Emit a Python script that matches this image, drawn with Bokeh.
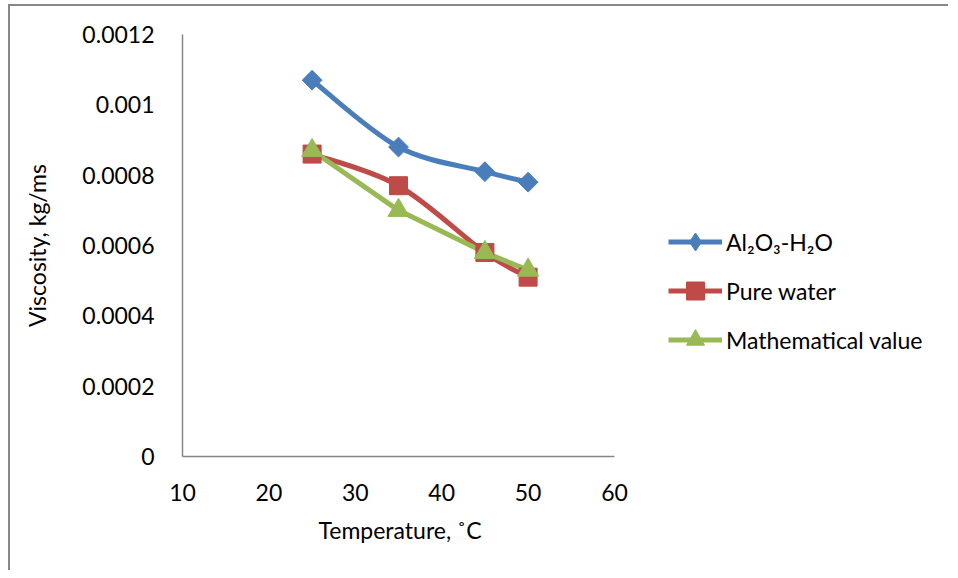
import numpy as np
from bokeh.plotting import figure
from bokeh.models import FixedTicker, Legend, LegendItem, ColumnDataSource, Title
from bokeh.embed import file_html
from bokeh.resources import INLINE

temps = [25, 35, 45, 50]
al2o3_h2o = [0.00107, 0.00088, 0.00081, 0.00078]
pure_water = [0.00086, 0.00077, 0.00058, 0.00051]
math_value = [0.00087, 0.00070, 0.00058, 0.00053]

x_ticks = [10, 20, 30, 40, 50, 60]
y_ticks = [0, 0.0002, 0.0004, 0.0006, 0.0008, 0.001, 0.0012]
y_tick_labels = ["0", "0.0002", "0.0004", "0.0006", "0.0008", "0.001", "0.0012"]

BLUE = "#4A7EBB"
RED = "#BE4B48"
GREEN = "#98B954"
AXIS = "#868686"
FONT = "Lato"

W, H = 940, 566
FL, FT, FR, FB = 172, 28, 940, 450
AXIS_PX = 432.0
X_MIN, X_MAX = 10, 60
# the frame extends right of the x axis to hold the legend; keep px/unit of 10..60 over AXIS_PX
x_end = X_MIN + (X_MAX - X_MIN) * (FR - FL) / AXIS_PX

p = figure(width=W, height=H, output_backend="svg", toolbar_location=None,
           x_range=(X_MIN, x_end), y_range=(0, 0.0012),
           min_border_left=FL, min_border_right=W - FR,
           min_border_top=FT, min_border_bottom=H - FB)
p.margin = (4, 0, 0, 8)
p.styles = {"border-left": "2px solid #878787", "border-top": "2px solid #878787"}
p.outline_line_color = None
p.grid.visible = False
p.background_fill_color = "white"
p.border_fill_color = "white"

for ax in (p.xaxis[0], p.yaxis[0]):
    ax.axis_line_color = AXIS
    ax.axis_line_width = 1.5
    ax.major_tick_line_color = None
    ax.minor_tick_line_color = None
    ax.major_label_text_font = FONT
    ax.major_label_text_font_size = "23px"
    ax.major_label_text_color = "black"
    ax.axis_label_text_font = FONT
    ax.axis_label_text_font_size = "23px"
    ax.axis_label_text_font_style = "normal"
    ax.axis_label_text_color = "black"

p.xaxis.ticker = FixedTicker(ticks=x_ticks)
p.xaxis.bounds = (X_MIN, X_MAX)
p.xaxis.major_label_standoff = 21

p.yaxis.ticker = FixedTicker(ticks=y_ticks)
p.yaxis.major_label_overrides = {t: s for t, s in zip(y_ticks, y_tick_labels)}
p.yaxis.major_label_standoff = 22
p.yaxis.axis_label = "Viscosity, kg/ms"
p.yaxis.axis_label_standoff = 28

# x-axis title centred under the axis (not under the wider frame)
xtitle = Title(text="Temperature, ˚C", align="left", offset=136,
               text_font=FONT, text_font_size="23px", text_font_style="normal",
               text_color="black", standoff=21)
p.add_layout(xtitle, "below")


def smooth_segments(xs, ys):
    xs = np.asarray(xs, float)
    ys = np.asarray(ys, float)
    n = len(xs)
    d = dict(x0=[], y0=[], x1=[], y1=[], cx0=[], cy0=[], cx1=[], cy1=[])
    for i in range(n - 1):
        a = max(i - 1, 0)
        b = min(i + 2, n - 1)
        d["x0"].append(xs[i]); d["y0"].append(ys[i])
        d["x1"].append(xs[i + 1]); d["y1"].append(ys[i + 1])
        d["cx0"].append(xs[i] + (xs[i + 1] - xs[a]) / 6)
        d["cy0"].append(ys[i] + (ys[i + 1] - ys[a]) / 6)
        d["cx1"].append(xs[i + 1] - (xs[b] - xs[i]) / 6)
        d["cy1"].append(ys[i + 1] - (ys[b] - ys[i]) / 6)
    return ColumnDataSource(d)


lw = 5
b_line = p.bezier(x0="x0", y0="y0", x1="x1", y1="y1", cx0="cx0", cy0="cy0",
                  cx1="cx1", cy1="cy1", source=smooth_segments(temps, al2o3_h2o),
                  line_color=BLUE, line_width=lw)
r_line = p.bezier(x0="x0", y0="y0", x1="x1", y1="y1", cx0="cx0", cy0="cy0",
                  cx1="cx1", cy1="cy1", source=smooth_segments(temps, pure_water),
                  line_color=RED, line_width=lw)
g_line = p.line(temps, math_value, line_color=GREEN, line_width=lw)

b_mk = p.scatter(temps, al2o3_h2o, marker="square", angle=np.pi / 4, size=14,
                 fill_color=BLUE, line_color=BLUE)
r_mk = p.scatter(temps, pure_water, marker="square", size=18,
                 fill_color=RED, line_color=RED)
g_mk = p.scatter(temps, math_value, marker="triangle", size=21,
                 fill_color=GREEN, line_color=GREEN)

# legend-only diamond swatch (legend swatches ignore marker angle); NaN = nothing on the chart
b_key = p.scatter(x=[float("nan")], y=[float("nan")], marker="diamond", size=14,
                  fill_color=BLUE, line_color=BLUE)

legend = Legend(items=[
    LegendItem(label="Al₂O₃-H₂O", renderers=[b_line, b_key]),
    LegendItem(label="Pure water", renderers=[r_line, r_mk]),
    LegendItem(label="Mathematical value", renderers=[g_line, g_mk]),
], location=(486, 94))
legend.border_line_color = None
legend.background_fill_alpha = 0
legend.padding = 0
legend.margin = 0
legend.spacing = 4
legend.glyph_width = 54
legend.glyph_height = 45
legend.label_height = 45
legend.label_standoff = 4
legend.label_text_font = FONT
legend.label_text_font_size = "23px"
legend.label_text_color = "black"
p.add_layout(legend, "center")

open("out.html", "w").write(file_html(p, INLINE))
